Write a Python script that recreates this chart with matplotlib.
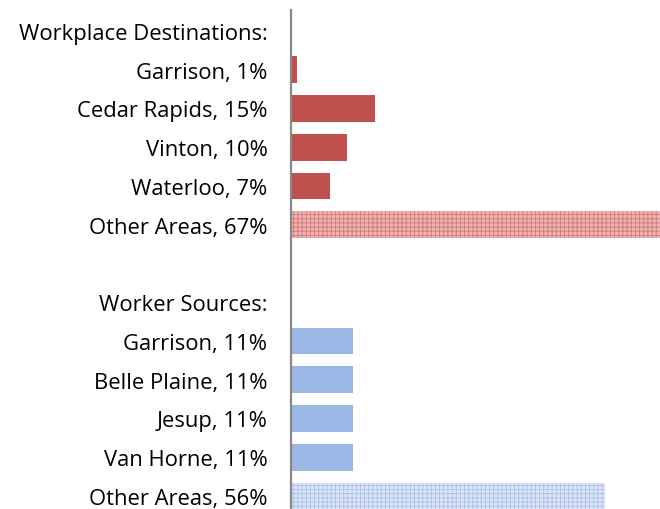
import matplotlib
matplotlib.use("Agg")
import matplotlib.pyplot as plt

dest_places = ["Garrison", "Cedar Rapids", "Vinton", "Waterloo", "Other Areas"]
dest_values = [1, 15, 10, 7, 67]
src_places = ["Garrison", "Belle Plaine", "Jesup", "Van Horne", "Other Areas"]
src_values = [11, 11, 11, 11, 56]
dest_header = "Workplace Destinations:"
src_header = "Worker Sources:"

red = "#c0504d"
blue = "#9bb7e6"

plt.rcParams['font.family'] = ['Open Sans', 'DejaVu Sans']
plt.rcParams['hatch.linewidth'] = 0.6

fig = plt.figure(figsize=(6.6, 5.1), dpi=100)
sp = 38.75
top_px = 11
bottom_px = 510
ax = fig.add_axes([291 / 660, 0, 1 - 291 / 660 + 0.02, (bottom_px - top_px) / 510])
y_top = -(32 - top_px) / sp
y_bot = 12 + (bottom_px - 497) / sp

labels = [dest_header] + [f"{p}, {v}%" for p, v in zip(dest_places, dest_values)] + [""] + \
         [src_header] + [f"{p}, {v}%" for p, v in zip(src_places, src_values)]
positions = list(range(13))

h = 0.69
for i, (p, v) in enumerate(zip(dest_places, dest_values)):
    y = 1 + i
    if p == "Other Areas":
        ax.barh(y, v, height=h, color="#ecb4b4", edgecolor="#d67878", hatch="++++", linewidth=0)
    else:
        ax.barh(y, v, height=h, color=red, linewidth=0)
for i, (p, v) in enumerate(zip(src_places, src_values)):
    y = 8 + i
    if p == "Other Areas":
        ax.barh(y, v, height=h, color="#dbe5f7", edgecolor="#abc2ea", hatch="++++", linewidth=0)
    else:
        ax.barh(y, v, height=h, color=blue, linewidth=0)

ax.set_ylim(y_bot, y_top)
ax.set_xlim(0, 65.8 * (1 - 291 / 660 + 0.02) / (1 - 291 / 660))
ax.set_yticks(positions)
ax.set_yticklabels(labels, fontsize=15.8)
ax.tick_params(axis='y', length=0, pad=17)
ax.set_xticks([])
for s in ["top", "right", "bottom"]:
    ax.spines[s].set_visible(False)
ax.spines["left"].set_color("#888888")
ax.spines["left"].set_linewidth(1.6)

fig.savefig("out.png", dpi=100)
